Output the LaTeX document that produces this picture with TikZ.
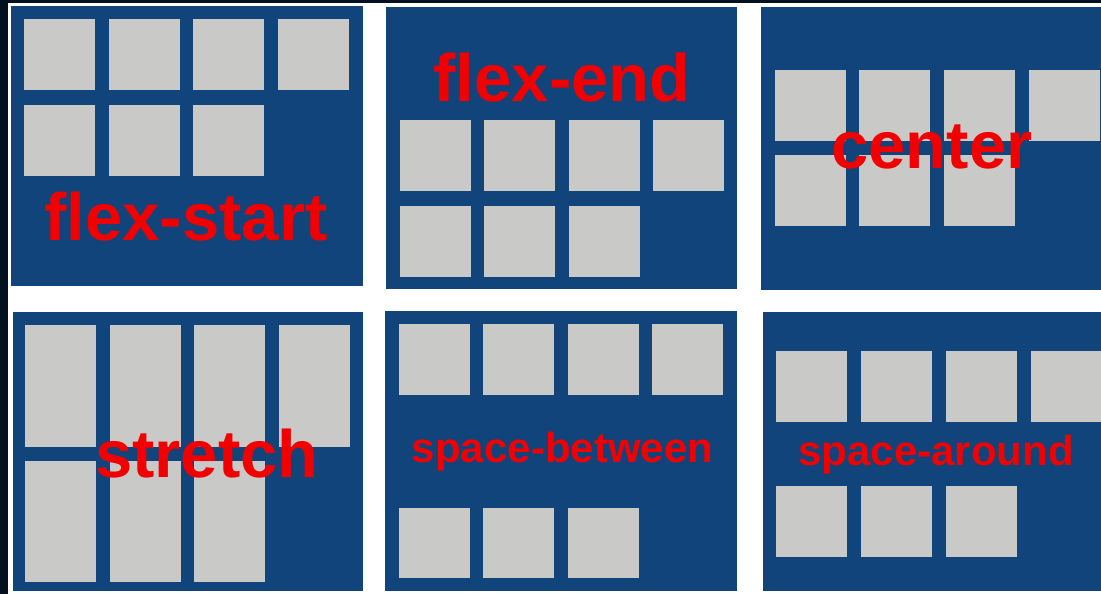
\documentclass[tikz,border=0pt]{standalone}
\usepackage{fontspec}
\setmainfont{Liberation Sans}
\definecolor{outerdark}{RGB}{3,16,32}
\definecolor{navy}{RGB}{16,68,122}
\definecolor{boxgray}{RGB}{201,201,199}
\definecolor{lblred}{RGB}{240,0,0}
\begin{document}
\begin{tikzpicture}[x=1pt,y=-1pt,
  panel/.style={fill=navy},
  item/.style={fill=boxgray, draw=none, inner sep=0pt, outer sep=0pt, anchor=north west, minimum width=71pt, minimum height=71pt},
  tallitem/.style={item, minimum height=122pt},
  biglabel/.style={text=lblred, font=\bfseries\fontsize{67}{67}\selectfont, inner sep=0pt, anchor=base},
  smalllabel/.style={text=lblred, font=\bfseries\fontsize{42}{42}\selectfont, inner sep=0pt, anchor=base}]
\useasboundingbox (0,0) rectangle (1101,594);
\clip (0,0) rectangle (1101,594);
% background
\fill[white] (0,0) rectangle (1101,594);
\fill[outerdark] (0,0) rectangle (1101,3);
\fill[outerdark] (0,0) rectangle (8,594);
% panels
\fill[panel] (11,6) rectangle (363,286);
\fill[panel] (386,7) rectangle (737,289);
\fill[panel] (761,7) rectangle (1111,290);
\fill[panel] (13,312) rectangle (363,591);
\fill[panel] (385,311) rectangle (737,591);
\fill[panel] (763,312) rectangle (1111,591);
% flex-start
\foreach \x [count=\i] in {24,109,193,278} \node[item] (fs\i) at (\x,19) {};
\foreach \x [count=\i from 5] in {24,109,193} \node[item] (fs\i) at (\x,105) {};
\node[biglabel] (lfs) at (186,240) {flex-start};
% flex-end
\foreach \x [count=\i] in {400,484,569,653} \node[item] (fe\i) at (\x,120) {};
\foreach \x [count=\i from 5] in {400,484,569} \node[item] (fe\i) at (\x,206) {};
\node[biglabel] (lfe) at (562,102) {flex-end};
% center
\foreach \x [count=\i] in {775,859,944,1029} \node[item] (ce\i) at (\x,70) {};
\foreach \x [count=\i from 5] in {775,859,944} \node[item] (ce\i) at (\x,155) {};
\node[biglabel] (lce) at (932,168) {center};
% stretch
\foreach \x [count=\i] in {25,110,194,279} \node[tallitem] (st\i) at (\x,325) {};
\foreach \x [count=\i from 5] in {25,110,194} \node[tallitem, minimum height=121pt] (st\i) at (\x,461) {};
\node[biglabel] (lst) at (207,477) {stretch};
% space-between
\foreach \x [count=\i] in {399,483,568,652} \node[item] (sb\i) at (\x,324) {};
\foreach \x [count=\i from 5] in {399,483,568} \node[item, minimum height=70pt] (sb\i) at (\x,508) {};
\node[smalllabel] (lsb) at (562.5,462) {space-between};
% space-around
\foreach \x [count=\i] in {776,861,946,1031} \node[item] (sa\i) at (\x,351) {};
\foreach \x [count=\i from 5] in {776,861,946} \node[item] (sa\i) at (\x,486) {};
\node[smalllabel] (lsa) at (936,465) {space-around};
\end{tikzpicture}
\end{document}
